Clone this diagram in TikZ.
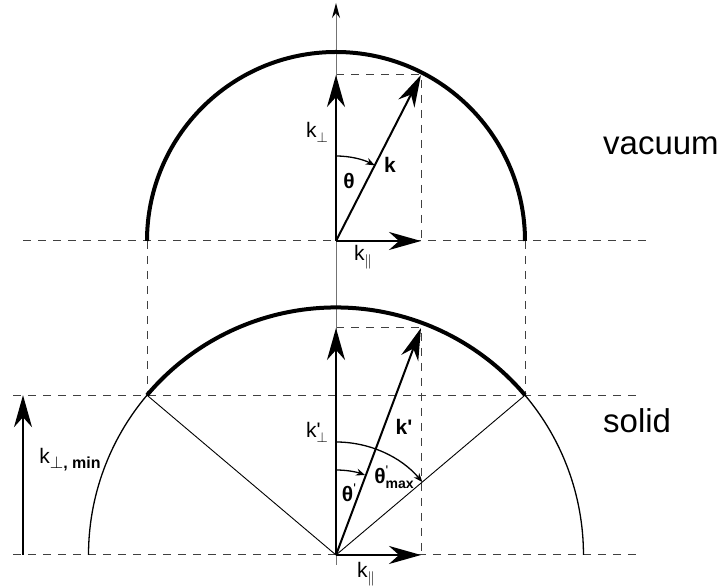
\documentclass[tikz,border=0pt]{standalone}
\usepackage{fontspec}
\setmainfont{Liberation Sans}
\usetikzlibrary{arrows.meta}
\newcommand{\lowidx}[1]{\raisebox{-5pt}{\fontsize{14}{16}\selectfont #1}}
\newcommand{\tick}{\textquotesingle}

\begin{document}
\begin{tikzpicture}[x=1pt,y=1pt,
  vecarrow/.style={line width=2pt,-{Stealth[length=32pt,width=18pt,inset=10pt]}},
  guide/.style={line width=1pt,draw=black!75,dash pattern=on 8pt off 7pt},
  axisline/.style={line width=1pt,draw=black!55,-{Stealth[length=15pt,width=8pt,color=black]}},
  sphere/.style={line width=1.3pt},
  rim/.style={line width=4pt},
  radial/.style={line width=0.9pt},
  anglearc/.style={line width=1.3pt,-{Stealth[length=9pt,width=7pt]}},
  lbl/.style={font=\fontsize{21}{24}\selectfont,inner sep=0pt},
  medium/.style={font=\fontsize{33}{38}\selectfont,inner sep=0pt,anchor=base west}
]
\useasboundingbox (0,0) rectangle (721,588);
\coordinate (o1) at (336,347);
\coordinate (kperp1) at (336,513);
\coordinate (ktip1) at (421,513);
\coordinate (kpar1) at (421,347);
\coordinate (rimL1) at (147,347);
\coordinate (rimR1) at (525,347);
\coordinate (hl1) at (23,347);
\coordinate (hr1) at (649,347);
\coordinate (o2) at (336,33);
\coordinate (kperp2) at (336,260);
\coordinate (ktip2) at (421,260);
\coordinate (kpar2) at (421,33);
\coordinate (pl2) at (147,192.8);
\coordinate (pr2) at (525,192.8);
\coordinate (endL2) at (88.5,33);
\coordinate (hl2) at (13,192.8);
\coordinate (hr2) at (640,192.8);
\coordinate (hl3) at (13,33);
\coordinate (hr3) at (640,33);
\coordinate (axbot) at (336,23);
\coordinate (axtop) at (336,585);
\coordinate (kminlo) at (23,33);
\coordinate (kminhi) at (23,192.8);
\coordinate (th1) at (336,432);
\coordinate (th2) at (336,118);
\coordinate (thmax) at (336,146);

\draw[guide] (hl1) -- (hr1);
\draw[guide] (hl2) -- (hr2);
\draw[guide] (hl3) -- (hr3);
\draw[guide] (rimL1) -- (pl2);
\draw[guide] (rimR1) -- (pr2);
\draw[guide] (kperp1) -- (ktip1) -- (kpar1);
\draw[guide] (kperp2) -- (ktip2) -- (kpar2);
\draw[axisline] (axbot) -- (axtop);

\draw[rim] (rimL1) arc[start angle=180,end angle=0,radius=189];
\draw[sphere] (endL2) arc[start angle=180,end angle=139.8,radius=247.5];
\draw[rim] (pl2) arc[start angle=139.8,end angle=40.2,radius=247.5];
\draw[sphere] (pr2) arc[start angle=40.2,end angle=0,radius=247.5];
\draw[radial] (o2) -- (pl2);
\draw[radial] (o2) -- (pr2);

\draw[vecarrow] (o1) -- (kperp1);
\draw[vecarrow] (o1) -- (ktip1);
\draw[vecarrow] (o1) -- (kpar1);
\draw[vecarrow] (o2) -- (kperp2);
\draw[vecarrow] (o2) -- (ktip2);
\draw[vecarrow] (o2) -- (kpar2);
\draw[vecarrow] (kminlo) -- (kminhi);

\draw[anglearc] (th1) arc[start angle=90,end angle=62.9,radius=85];
\draw[anglearc] (th2) arc[start angle=90,end angle=70,radius=85];
\draw[anglearc] (thmax) arc[start angle=90,end angle=40.2,radius=113];

\node[lbl] (kperplbl1) at (317,456) {k\lowidx{$\perp$}};
\node[lbl] (thetalbl1) at (349,407) {\textbf{θ}};
\node[lbl] (klbl1) at (390,423) {\textbf{k}};
\node[lbl] (kparlbl1) at (363,331) {k\lowidx{$\parallel$}};
\node[lbl] (kperplbl2) at (317,156) {k\rlap{\tick}\lowidx{$\perp$}};
\node[lbl] (klbl2) at (404,161) {\textbf{k\tick}};
\node[lbl] (thetalbl2) at (349,95) {\textbf{θ}\raisebox{8pt}{\fontsize{14}{16}\selectfont\tick}};
\node[lbl] (thmaxlbl) at (394,111) {\textbf{θ}\rlap{\raisebox{8pt}{\fontsize{14}{16}\selectfont\tick}}\lowidx{\bfseries max}};
\node[lbl] (kparlbl2) at (366,14) {k\lowidx{$\parallel$}};
\node[lbl] (kminlbl) at (70,128) {k\raisebox{-5pt}{\fontsize{16}{18}\selectfont$\perp$\bfseries, min}};
\node[medium] (vaclbl) at (603,433) {vacuum};
\node[medium] (sollbl) at (603,155) {solid};
\end{tikzpicture}
\end{document}
